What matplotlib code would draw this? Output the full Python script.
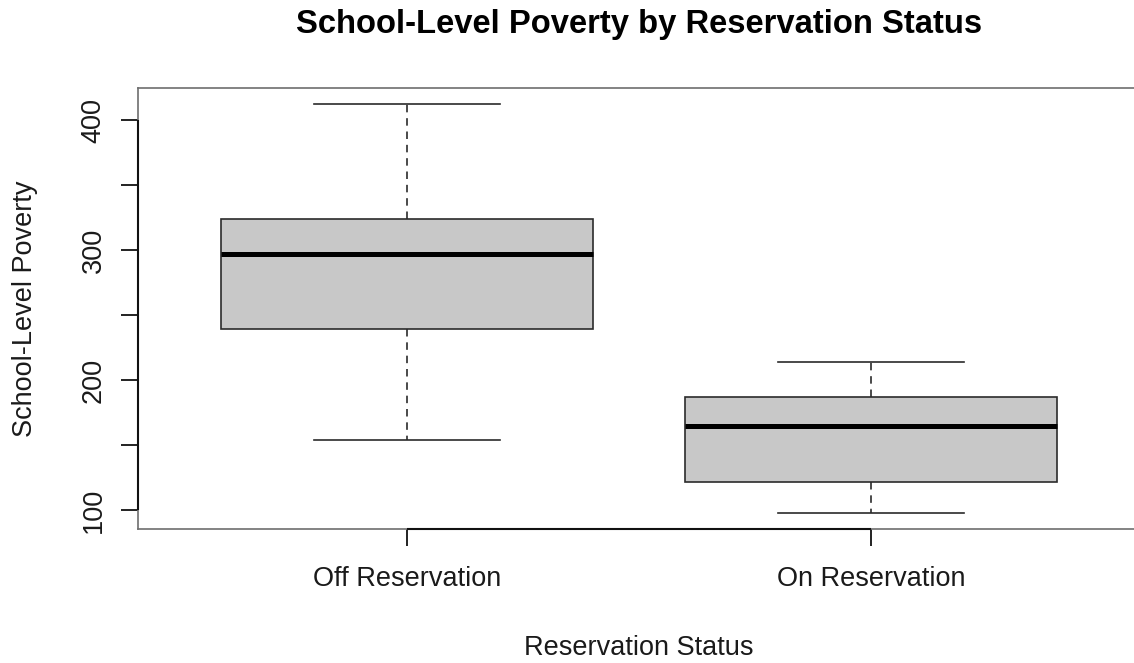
import matplotlib
matplotlib.use("Agg")
import matplotlib.pyplot as plt
from matplotlib.ticker import MultipleLocator

# Five-number summaries of school-level poverty per group
groups = ["Off Reservation", "On Reservation"]
lower_whisker = [153.8, 97.7]
q1 = [239.2, 121.5]
median = [297.2, 164.6]
q3 = [323.8, 186.9]
upper_whisker = [412.5, 213.8]

y_ticks = [100, 200, 300, 400]

plt.rcParams["font.family"] = ["Liberation Sans", "DejaVu Sans"]

W, H = 1134, 663
fig = plt.figure(figsize=(W / 100, H / 100), dpi=100)
left, right, top, bottom = 137.5, 1140.5, 87.7, 529.3
ax = fig.add_axes([left / W, (H - bottom) / H, (right - left) / W, (bottom - top) / H])

stats = []
for i, g in enumerate(groups):
    stats.append(dict(label=g, whislo=lower_whisker[i], q1=q1[i], med=median[i],
                      q3=q3[i], whishi=upper_whisker[i], fliers=[]))

positions = list(range(1, len(groups) + 1))
ax.bxp(stats, positions=positions, widths=0.8, patch_artist=True,
       showfliers=False,
       boxprops=dict(facecolor="#c8c8c8", edgecolor="#2b2b2b", linewidth=1.2),
       medianprops=dict(color="black", linewidth=3.6, solid_capstyle="butt"),
       whiskerprops=dict(color="#2b2b2b", linewidth=1.2, linestyle=(0, (4.5, 3.5))),
       capprops=dict(color="#2b2b2b", linewidth=1.2),
       capwidths=0.4)

# R-style axis ranges: 4% padding around the data
lo = min(lower_whisker)
hi = max(upper_whisker)
pad = 0.04 * (hi - lo)
ax.set_ylim(lo - pad, hi + pad)
n = len(groups)
xpad = 0.04 * n
ax.set_xlim(0.5 - xpad, n + 0.5 + xpad)

for s in ax.spines.values():
    s.set_color("#6e6e6e")
    s.set_linewidth(1.2)

# axis lines spanning the tick range
ax.plot([positions[0], positions[-1]], [lo - pad] * 2, color="#111111", lw=1.5,
        clip_on=False, zorder=5, solid_capstyle="butt")
ax.plot([0.5 - xpad] * 2, [y_ticks[0], y_ticks[-1]], color="#111111", lw=1.5,
        clip_on=False, zorder=5, solid_capstyle="butt")

ax.set_xticks(positions)
ax.set_xticklabels(groups, fontsize=19.5, color="#1a1a1a")
ax.set_yticks(y_ticks)
ax.set_yticklabels([str(v) for v in y_ticks], fontsize=19.5, rotation=90,
                   va="center", color="#1a1a1a")
ax.yaxis.set_minor_locator(MultipleLocator(50))
ax.tick_params(axis="x", length=12.2, width=1.3, color="#111111", pad=14)
ax.tick_params(axis="y", which="both", length=12.2, width=1.3, color="#111111", pad=10)
ax.tick_params(axis="y", which="minor", labelleft=False)

fig.text(639 / W, 1 - 33 / H, "School-Level Poverty by Reservation Status",
         ha="center", va="baseline", fontsize=23.6, fontweight="bold")
fig.text(32 / W, 1 - 308.5 / H, "School-Level Poverty", rotation=90,
         ha="center", va="baseline", fontsize=19.5, color="#1a1a1a",
         rotation_mode="anchor")
fig.text(639 / W, 1 - 655 / H, "Reservation Status", ha="center",
         va="baseline", fontsize=19.5, color="#1a1a1a")

fig.savefig("out.png", dpi=100)
